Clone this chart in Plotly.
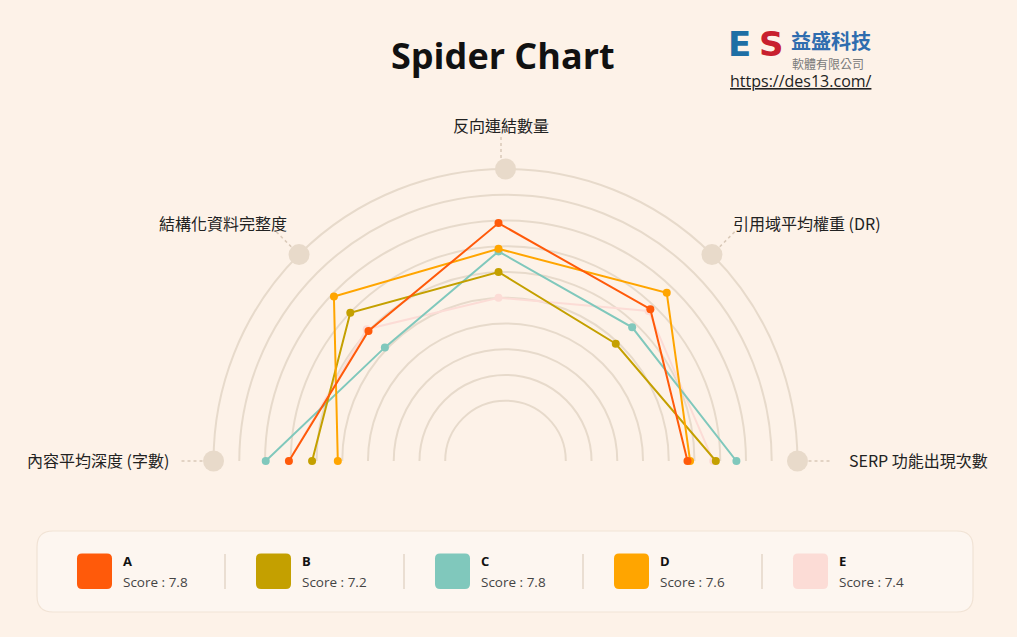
import math
import plotly.graph_objects as go

# axes, left to right around the half circle
axes = ["內容平均深度 (字數)", "結構化資料完整度", "反向連結數量",
        "引用域平均權重 (DR)", "SERP 功能出現次數"]

names = ["A", "B", "C", "D", "E"]
scores = [7.8, 7.2, 7.8, 7.6, 7.4]
colors = ["#FF5A0A", "#C4A000", "#80C8BC", "#FFA500", "#FCDCD6"]

a_vals = [6.8, 5.8, 7.9, 7.0, 6.0]
b_vals = [5.9, 6.8, 6.0, 5.1, 7.1]
c_vals = [7.7, 4.9, 6.8, 6.0, 7.9]
d_vals = [4.9, 7.7, 6.9, 7.9, 6.1]
e_vals = [6.8, 5.9, 5.0, 6.9, 7.0]

W, H = 1017, 637
BG = "#FDF2E8"
GRID = "#E7DACB"
CY = 461
HOLE_PX, STEP_PX = 34.56, 25.74   # hole radius and one unit, in pixels
RMAX = 10.3                        # a bit over 10 so the r=10 arc is a real grid line
R = HOLE_PX + STEP_PX * RMAX
HOLE = HOLE_PX / R
angles = [180 - 45 * i for i in range(len(axes))]


def px(x):
    return x / W


def py(y):
    return 1 - y / H


def polar_layout(cx, grid):
    return dict(
        domain=dict(x=[px(cx - R), px(cx + R)], y=[py(CY), py(CY - R)]),
        sector=[0, 180],
        hole=HOLE,
        bgcolor="rgba(0,0,0,0)",
        radialaxis=dict(range=[0, RMAX], tickvals=list(range(1, 11)),
                        showgrid=grid, gridcolor=GRID, gridwidth=2.2,
                        showline=False, showticklabels=False, ticks=""),
        angularaxis=dict(showgrid=False, showline=False, showticklabels=False,
                         ticks="", rotation=0, direction="counterclockwise"),
    )


fig = go.Figure()

# beige end-of-axis dots on the frame
fig.add_trace(go.Scatterpolar(
    r=[10] * len(axes), theta=angles, mode="markers", subplot="polar",
    marker=dict(size=21, color="#E8DACA"), cliponaxis=False,
    hoverinfo="skip", showlegend=False))

series = {"E": e_vals, "C": c_vals, "B": b_vals, "D": d_vals, "A": a_vals}
for name, vals in series.items():
    col = colors[names.index(name)]
    fig.add_trace(go.Scatterpolar(
        r=vals, theta=angles, mode="lines+markers", subplot="polar2",
        name=name, line=dict(color=col, width=2),
        marker=dict(size=8, color=col), cliponaxis=False,
        showlegend=False))

shapes = []
annotations = []


def note(x, y, text, size, color, family="Open Sans", xanchor="center", **font_kw):
    annotations.append(dict(x=px(x), y=py(y), xref="paper", yref="paper",
                            text=text, showarrow=False, xanchor=xanchor,
                            yanchor="middle",
                            font=dict(family=family, size=size, color=color, **font_kw)))


# axis labels + dotted connectors
label_pos = [(171, 460, "right"), (289, 223, "right"), (501, 125, "center"),
             (731, 223, "left"), (847, 460, "left")]
for name, (lx, ly, anc) in zip(axes, label_pos):
    note(lx, ly, name, 16, "#222222", family="Noto Sans CJK TC", xanchor=anc)

for ang in angles:
    c, s = math.cos(math.radians(ang)), math.sin(math.radians(ang))
    r0, r1 = 303, 326
    cx = 505.5 if ang != 90 else 501
    shapes.append(dict(type="line", xref="paper", yref="paper",
                       x0=px(cx + r0 * c), y0=py(CY - r0 * s),
                       x1=px(cx + r1 * c), y1=py(CY - r1 * s),
                       line=dict(color="#D9C9B8", width=1.5, dash="dot")))

# title
note(503, 55, "<b>Spider Chart</b>", 36, "#111111")

# logo (text version)
note(739, 44, "<b>E</b>", 34, "#1E6FA5", family="DejaVu Sans")
note(771, 44, "<b>S</b>", 34, "#C8202E", family="DejaVu Sans")
note(789, 41, "<b>益盛科技</b>", 20, "#2F6DAF", family="Noto Sans CJK TC", xanchor="left")
note(790, 64, "軟體有限公司", 12, "#7A7A7A", family="Noto Sans CJK TC", xanchor="left")
note(801, 81, "https://des13.com/", 16, "#222222", lineposition="under")


def rounded_rect(x0, y0, x1, y1, r):
    pts = [("M", x0 + r, y0), ("L", x1 - r, y0), ("Q", x1, y0), ("", x1, y0 + r),
           ("L", x1, y1 - r), ("Q", x1, y1), ("", x1 - r, y1),
           ("L", x0 + r, y1), ("Q", x0, y1), ("", x0, y1 - r),
           ("L", x0, y0 + r), ("Q", x0, y0), ("", x0 + r, y0)]
    return " ".join(f"{c} {px(x):.5f},{py(y):.5f}" for c, x, y in pts) + " Z"


# legend box
shapes.append(dict(type="path", xref="paper", yref="paper",
                   path=rounded_rect(37, 531, 973, 612, 16),
                   fillcolor="#FDF6F0", line=dict(color="#F1E3D5", width=1.2),
                   layer="below"))
for i, (name, sc, col) in enumerate(zip(names, scores, colors)):
    left = 77 + 179 * i
    shapes.append(dict(type="path", xref="paper", yref="paper",
                       path=rounded_rect(left, 553.5, left + 35, 589, 5),
                       fillcolor=col, line=dict(width=0)))
    if i > 0:
        shapes.append(dict(type="line", xref="paper", yref="paper",
                           x0=px(left - 31), x1=px(left - 31),
                           y0=py(554), y1=py(589),
                           line=dict(color="#E3D6C9", width=1.5)))
    note(left + 44, 561, f"<b>{name}</b>", 13, "#111111", xanchor="left")
    note(left + 44, 581.5, f"Score : {sc}", 13.5, "#444444", xanchor="left")

fig.update_layout(
    width=W, height=H, margin=dict(l=0, r=0, t=0, b=0),
    paper_bgcolor=BG, plot_bgcolor=BG,
    polar=polar_layout(505.5, True),
    polar2=polar_layout(498.5, False),
    shapes=shapes, annotations=annotations, showlegend=False,
)

fig.write_html("out.html", config={"displayModeBar": False}, post_script=(
    "document.body.style.margin='0';"
    "document.body.style.background='" + BG + "';"))
